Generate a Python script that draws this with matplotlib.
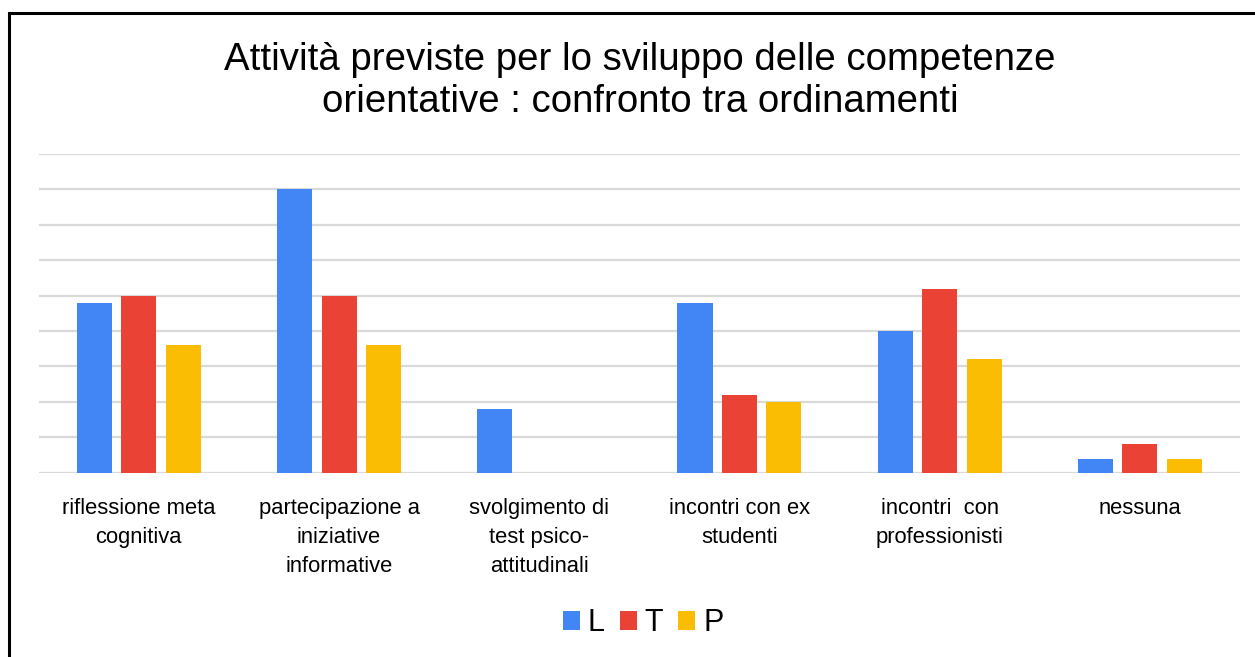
import matplotlib
matplotlib.use("Agg")
import matplotlib.pyplot as plt
from matplotlib.patches import Rectangle
import numpy as np

plt.rcParams['font.family'] = ['Liberation Sans', 'DejaVu Sans']

categories = [
    "riflessione meta\ncognitiva",
    "partecipazione a\niniziative\ninformative",
    "svolgimento di\ntest psico-\nattitudinali",
    "incontri con ex\nstudenti",
    "incontri  con\nprofessionisti",
    "nessuna",
]
series_names = ["L", "T", "P"]
values_L = [24, 40, 9, 24, 20, 2]
values_T = [25, 25, 0, 11, 26, 4]
values_P = [18, 18, 0, 10, 16, 2]
colors = ["#4285F4", "#EA4335", "#FBBC04"]

W, H = 1255, 657
fig = plt.figure(figsize=(W / 100, H / 100), dpi=100)

# outer frame
fig.patches.append(Rectangle((9 / W, -0.1), 1.2, 1 - 13 / H + 0.1,
                             transform=fig.transFigure, fill=False,
                             edgecolor="black", linewidth=2.2))

ax = fig.add_axes([38.7 / W, 1 - 472.7 / H, (1240 - 38.7) / W, (472.7 - 154) / H])
x = np.arange(len(categories))
width = 0.175
step = 0.222
handles = []
for i, (vals, c, name) in enumerate(zip([values_L, values_T, values_P], colors, series_names)):
    b = ax.bar(x + (i - 1) * step, vals, width=width, color=c, label=name, zorder=3)
    handles.append(b)

ax.set_xlim(-0.5, len(categories) - 0.5)
ax.set_ylim(0, 45)
ax.set_yticks(np.arange(0, 46, 5))
ax.yaxis.grid(True, color="#d9d9d9", linewidth=1.6, zorder=0)
ax.tick_params(axis="y", left=False, labelleft=False)
ax.tick_params(axis="x", bottom=False, pad=15)
ax.set_xticks(x)
ax.set_xticklabels(categories, fontsize=15.8, linespacing=1.5, va="top")
for s in ax.spines.values():
    s.set_visible(False)

fig.text(640 / W, 1 - 70 / H, "Attività previste per lo sviluppo delle competenze",
         ha="center", va="baseline", fontsize=27.6)
fig.text(640 / W, 1 - 112 / H, "orientative : confronto tra ordinamenti",
         ha="center", va="baseline", fontsize=27.6)

fig.legend(handles=handles, labels=series_names, loc="center",
           bbox_to_anchor=(643 / W, 1 - 623 / H), ncol=3, frameon=False,
           fontsize=22, handlelength=0.56, handleheight=0.56,
           handletextpad=0.25, columnspacing=0.5, borderpad=0.1)

fig.savefig("out.png", dpi=100)
